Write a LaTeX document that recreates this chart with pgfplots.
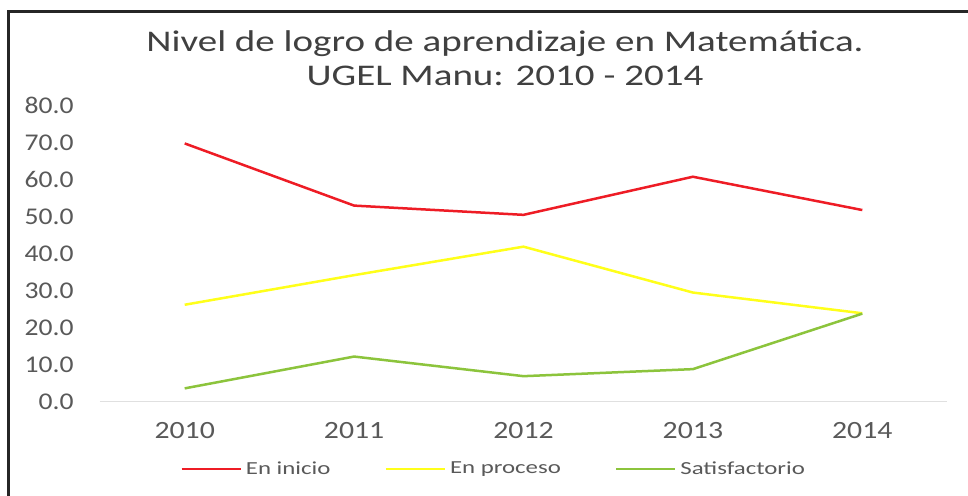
\documentclass[border=0pt]{standalone}
\usepackage{fontspec}
\setmainfont{Carlito}
\newfontfamily\titlefont[FakeStretch=1.3]{Carlito}
\newfontfamily\xtickfont[FakeStretch=1.2]{Carlito}
\newfontfamily\ytickfont[FakeStretch=1.15]{Carlito}
\newfontfamily\legfont[FakeStretch=1.35]{Carlito}
\usepackage{pgfplots}
\pgfplotsset{compat=1.18}
\definecolor{cred}{HTML}{EE1C25}
\definecolor{cyel}{HTML}{FFFF1A}
\definecolor{cgrn}{HTML}{8CC43C}
\definecolor{ctxt}{HTML}{595959}
\definecolor{ctitle}{HTML}{404040}
\begin{document}
\begin{tikzpicture}[x=0.5pt,y=0.5pt]
\useasboundingbox (0,0) rectangle (968,496);
\fill[white] (0,0) rectangle (968,496);
\draw[line width=1.5pt, color=black!85] (8,-4) -- (8,484) -- (972,484);
\node[font=\titlefont\fontsize{15}{17}\selectfont, text=ctitle, inner sep=0pt, anchor=base] at (505,444.3) {Nivel de logro de aprendizaje en Matemática.};
\node[font=\titlefont\fontsize{15}{17}\selectfont, text=ctitle, inner sep=0pt, anchor=base] at (505,410) {UGEL Manu: 2010 - 2014};
\begin{axis}[
  at={(50pt,47.15pt)}, anchor=south west,
  scale only axis,
  width=423.5pt, height=148pt,
  xmin=-0.5, xmax=4.5, ymin=0, ymax=80,
  axis x line*=bottom, axis y line*=left,
  x axis line style={draw=black!12, line width=0.8pt, -},
  y axis line style={draw=none},
  xtick={0,1,2,3,4},
  xticklabels={2010,2011,2012,2013,2014},
  ytick={0,10,...,80},
  major tick length=0pt,
  tick style={draw=none},
  xticklabel style={font=\xtickfont\fontsize{12.4}{12.4}\selectfont, text=ctxt, anchor=center, inner sep=0pt, yshift=-14.5pt},
  yticklabel style={font=\ytickfont\fontsize{12}{12}\selectfont, text=ctxt, anchor=east, inner sep=0pt, xshift=-13pt},
  /pgf/number format/.cd, fixed, fixed zerofill, precision=1, assume math mode=true,
  /pgfplots/.cd,
  clip=false,
  legend columns=3,
  legend style={draw=none, fill=none, at={(0.466,-0.228)}, anchor=center,
    font=\legfont\fontsize{9.2}{9.2}\selectfont, text=ctxt,
    /tikz/every even column/.append style={column sep=25pt}},
  legend image code/.code={\draw[#1, line width=1.25pt] (0pt,0pt) -- (29.5pt,0pt);},
]
\addplot[cred, line width=1.25pt] coordinates {(0,69.8) (1,53.0) (2,50.5) (3,60.8) (4,51.8)};
\addlegendentry{En inicio}
\addplot[cyel, line width=1.25pt] coordinates {(0,26.2) (1,34.2) (2,41.9) (3,29.5) (4,23.9)};
\addlegendentry{En proceso}
\addplot[cgrn, line width=1.25pt] coordinates {(0,3.6) (1,12.2) (2,6.9) (3,8.8) (4,23.8)};
\addlegendentry{Satisfactorio}
\end{axis}
\end{tikzpicture}
\end{document}
